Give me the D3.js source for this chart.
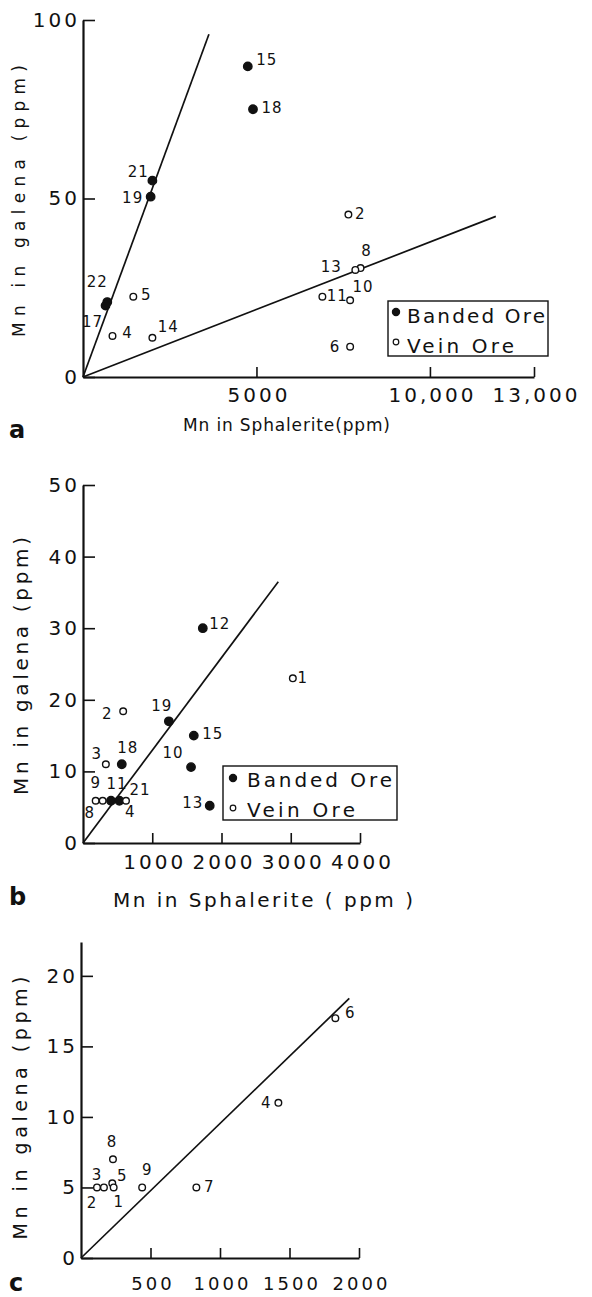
<!DOCTYPE html>
<html>
<head>
<meta charset="utf-8">
<script src="https://cdn.jsdelivr.net/npm/d3@7/dist/d3.min.js"></script>
<style>
  body { margin: 0; background: #fff; }
  svg text { font-family: "DejaVu Sans", sans-serif; fill: #111; }
</style>
</head>
<body>
<svg id="chart" width="592" height="1297"></svg>
<script>
// ---- panel a : Mn in galena vs Mn in sphalerite ----
const aIds  = ["15", "18", "21", "19", "22", "17", "5", "4", "14", "2", "8", "13", "11", "10", "6"];
const aSph  = [4750, 4900, 2000, 1950, 700, 650, 1450, 850, 2000, 7650, 8000, 7850, 6900, 7700, 7700];
const aGal  = [87, 75, 55, 50.5, 21, 20, 22.5, 11.5, 11, 45.5, 30.5, 30, 22.5, 21.5, 8.5];
const aType = ["B", "B", "B", "B", "B", "B", "V", "V", "V", "V", "V", "V", "V", "V", "V"];
const aFits = [[0, 0, 3630, 96], [0, 0, 11900, 45]];
const aXTicks = [5000, 10000, 13000];
const aXTickLabels = ["5000", "10,000", "13,000"];
const aYTicks = [0, 50, 100];

// ---- panel b ----
const bIds  = ["12", "19", "15", "10", "18", "13", "2", "3", "1", "8", "9", "11", "4", "21"];
const bSph  = [1730, 1240, 1600, 1560, 560, 1830, 580, 330, 3030, 183, 284, 404, 525, 621];
const bGal  = [30, 17, 15, 10.6, 11, 5.2, 18.4, 11, 23, 5.9, 5.9, 5.9, 5.9, 5.9];
const bType = ["B", "B", "B", "B", "B", "B", "V", "V", "V", "V", "V", "B", "B", "V"];
const bFits = [[0, 0, 2820, 36.5]];
const bXTicks = [1000, 2000, 3000, 4000];
const bXTickLabels = ["1000", "2000", "3000", "4000"];
const bYTicks = [0, 10, 20, 30, 40, 50];

// ---- panel c ----
const cIds  = ["6", "4", "8", "9", "7", "3", "2", "5", "1"];
const cSph  = [1830, 1420, 230, 440, 830, 115, 165, 225, 235];
const cGal  = [17, 11, 7, 5, 5, 5, 5, 5.3, 5];
const cType = ["V", "V", "V", "V", "V", "V", "V", "V", "V"];
const cFits = [[0, 0, 1930, 18.4]];
const cXTicks = [500, 1000, 1500, 2000];
const cXTickLabels = ["500", "1000", "1500", "2000"];
const cYTicks = [0, 5, 10, 15, 20];

// where the sample numbers sit relative to their marker (px)
const aLabelDx = [19, 19, -14, -18, -10, -13, 13, 15, 16, 12, 6, -24, 15, 13, -15];
const aLabelDy = [-6, -1, -9, 1, -20, 16, -2, -3, -11, -1, -17, -3, -1, -13, 0];
const bLabelDx = [17, -7, 19, -18, 6, -17, -16, -9, 10, -6, -7, 6, 11, 14];
const bLabelDy = [-4, -15, -2, -14, -16, -3, 3, -10, 0, 12, -18, -17, 11, -11];
const cLabelDx = [15, -12, -1, 5, 13, 0, -12, 10, 5];
const cLabelDy = [-5, 0, -17, -17, 0, -12, 16, -7, 15];

const svg = d3.select("#chart");

function drawPanel(p) {
  const x = d3.scaleLinear().domain(p.xDomain).range(p.xRange);
  const y = d3.scaleLinear().domain(p.yDomain).range(p.yRange);
  const g = svg.append("g");

  const xAxis = d3.axisBottom(x)
    .tickValues(p.xTicks)
    .tickFormat((d, i) => p.xTickLabels[i])
    .tickSize(-10).tickSizeOuter(0).tickPadding(p.xPad);
  const yAxis = d3.axisLeft(y)
    .tickValues(p.yTicks)
    .tickFormat(d3.format("d"))
    .tickSize(-12).tickSizeOuter(0).tickPadding(3);

  const gx = g.append("g").attr("transform", "translate(0," + p.yRange[0] + ")").call(xAxis);
  const gy = g.append("g").attr("transform", "translate(" + p.xRange[0] + ",0)").call(yAxis);
  [gx, gy].forEach(a => {
    a.select(".domain").attr("stroke", "#111").attr("stroke-width", 2.2);
    a.selectAll(".tick line").attr("stroke", "#111").attr("stroke-width", 1.6);
    a.selectAll(".tick text")
      .attr("font-size", 20).attr("fill", "#111")
      .style("letter-spacing", "3px");
  });
  gx.selectAll(".tick text").attr("dx", 2).attr("font-size", p.xFont);

  // fitted lines
  g.selectAll(".fit").data(p.fits).enter().append("line")
    .attr("x1", d => x(d[0])).attr("y1", d => y(d[1]))
    .attr("x2", d => x(d[2])).attr("y2", d => y(d[3]))
    .attr("stroke", "#111").attr("stroke-width", 1.7);

  // samples
  const pts = p.ids.map((id, i) => ({ id: id, sx: p.sph[i], gy: p.gal[i], t: p.type[i], dx: p.dx[i], dy: p.dy[i] }));
  g.selectAll(".pt").data(pts).enter().append("circle")
    .attr("cx", d => x(d.sx)).attr("cy", d => y(d.gy))
    .attr("r", d => d.t === "B" ? 4.2 : 3.3)
    .attr("fill", d => d.t === "B" ? "#111" : "#fff")
    .attr("stroke", "#111").attr("stroke-width", 1.4);

  g.selectAll(".lab").data(pts).enter().append("text")
    .attr("x", d => x(d.sx) + d.dx).attr("y", d => y(d.gy) + d.dy)
    .attr("text-anchor", "middle").attr("dominant-baseline", "central")
    .attr("font-size", 15).style("letter-spacing", "1px")
    .text(d => d.id);

  // axis titles
  if (p.xTitle) {
    g.append("text").attr("x", p.xTitle.x).attr("y", p.xTitle.y)
      .attr("font-size", p.xTitle.size)
      .attr("textLength", p.xTitle.len).attr("lengthAdjust", "spacing")
      .text("Mn in Sphalerite" + p.xTitle.unit);
  }
  g.append("text")
    .attr("transform", "translate(" + p.yTitle.x + "," + p.yTitle.y + ") rotate(-90)")
    .attr("text-anchor", "middle")
    .attr("font-size", p.yTitle.size)
    .attr("textLength", p.yTitle.len).attr("lengthAdjust", "spacing")
    .text("Mn in galena (ppm)");

  g.append("text").attr("x", p.tag.x).attr("y", p.tag.y)
    .attr("font-size", 24).attr("font-weight", "bold")
    .attr("font-family", "Liberation Sans, Arial, sans-serif")
    .text(p.tag.t);

  // legend
  if (p.legend) {
    const L = p.legend;
    g.append("rect").attr("x", L.x).attr("y", L.y).attr("width", L.w).attr("height", L.h)
      .attr("fill", "none").attr("stroke", "#111").attr("stroke-width", 1.4);
    const items = [["Banded Ore", "B", L.len1], ["Vein Ore", "V", L.len2]];
    items.forEach((it, i) => {
      const by = L.y + L.b1 + i * L.gap;
      g.append("circle").attr("cx", L.x + L.mx).attr("cy", by - L.mOff)
        .attr("r", it[1] === "B" ? 3.6 : 2.8)
        .attr("fill", it[1] === "B" ? "#111" : "#fff")
        .attr("stroke", "#111").attr("stroke-width", 1.2);
      g.append("text").attr("x", L.x + L.tx).attr("y", by)
        .attr("font-size", 20)
        .attr("textLength", it[2]).attr("lengthAdjust", "spacing")
        .text(it[0]);
    });
  }
}

drawPanel({
  xDomain: [0, 13000], xRange: [83, 534],
  yDomain: [0, 100], yRange: [377, 20],
  xTicks: aXTicks, xTickLabels: aXTickLabels, yTicks: aYTicks, xPad: 11, xFont: 20,
  fits: aFits, ids: aIds, sph: aSph, gal: aGal, type: aType, dx: aLabelDx, dy: aLabelDy,
  xTitle: { x: 183, y: 431, size: 17, len: 207, unit: "(ppm)" },
  yTitle: { x: 25, y: 201, size: 17, len: 272 },
  tag: { x: 9, y: 438, t: "a" },
  legend: { x: 388, y: 301, w: 160, h: 55, mx: 8, tx: 19, b1: 22, gap: 30, mOff: 11, len1: 138, len2: 107 }
});

drawPanel({
  xDomain: [0, 4000], xRange: [83, 360],
  yDomain: [0, 50], yRange: [843, 485],
  xTicks: bXTicks, xTickLabels: bXTickLabels, yTicks: bYTicks, xPad: 12, xFont: 20,
  fits: bFits, ids: bIds, sph: bSph, gal: bGal, type: bType, dx: bLabelDx, dy: bLabelDy,
  xTitle: { x: 113, y: 907, size: 20, len: 300, unit: " ( ppm )" },
  yTitle: { x: 28, y: 666, size: 20, len: 258 },
  tag: { x: 9, y: 905, t: "b" },
  legend: { x: 223, y: 766, w: 174, h: 54, mx: 10, tx: 24, b1: 21, gap: 30, mOff: 9, len1: 145, len2: 108 }
});

drawPanel({
  xDomain: [0, 2000], xRange: [81, 359],
  yDomain: [0, 22.4], yRange: [1258, 942],
  xTicks: cXTicks, xTickLabels: cXTickLabels, yTicks: cYTicks, xPad: 19, xFont: 18,
  fits: cFits, ids: cIds, sph: cSph, gal: cGal, type: cType, dx: cLabelDx, dy: cLabelDy,
  xTitle: null,
  yTitle: { x: 27, y: 1108, size: 19, len: 263 },
  tag: { x: 9, y: 1291, t: "c" },
  legend: null
});
</script>
</body>
</html>
